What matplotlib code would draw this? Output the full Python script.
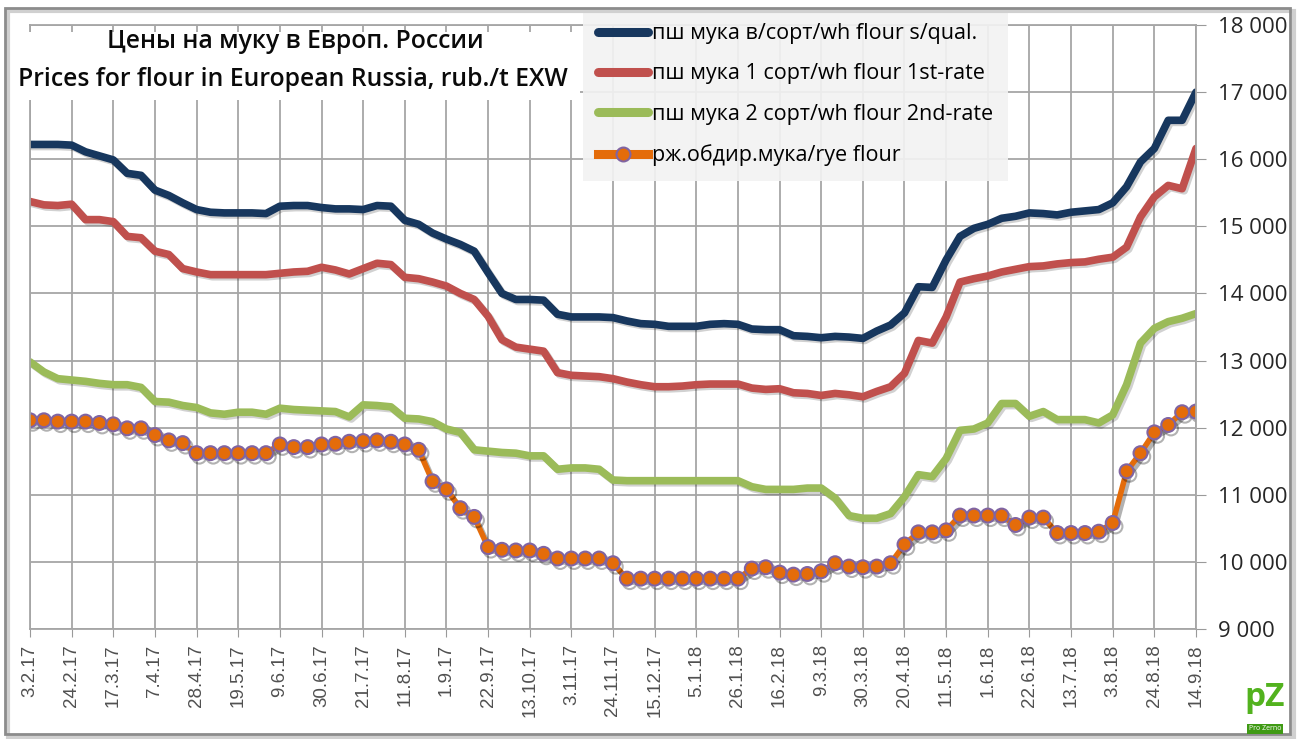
import matplotlib.pyplot as plt
import matplotlib.patheffects as pe
from matplotlib.patches import Rectangle
import numpy as np

# weekly prices, rub./t EXW, 3.2.17 .. 14.9.18
tick_labels = ["3.2.17", "24.2.17", "17.3.17", "7.4.17", "28.4.17", "19.5.17",
               "9.6.17", "30.6.17", "21.7.17", "11.8.17", "1.9.17", "22.9.17",
               "13.10.17", "3.11.17", "24.11.17", "15.12.17", "5.1.18", "26.1.18",
               "16.2.18", "9.3.18", "30.3.18", "20.4.18", "11.5.18", "1.6.18",
               "22.6.18", "13.7.18", "3.8.18", "24.8.18", "14.9.18"]

flour_top = [16220, 16220, 16220, 16210, 16110, 16050, 15990, 15790, 15760, 15540,
             15460, 15350, 15250, 15210, 15200, 15200, 15200, 15190, 15300, 15310,
             15310, 15280, 15260, 15260, 15250, 15310, 15300, 15090, 15030, 14900,
             14810, 14730, 14630, 14310, 14000, 13910, 13910, 13900, 13690, 13650,
             13650, 13650, 13640, 13590, 13550, 13540, 13510, 13510, 13510, 13540,
             13550, 13540, 13470, 13460, 13460, 13370, 13360, 13340, 13360, 13350,
             13330, 13440, 13530, 13710, 14100, 14090, 14500, 14850, 14970, 15030,
             15120, 15150, 15200, 15190, 15170, 15210, 15230, 15250, 15350, 15590,
             15960, 16160, 16580, 16580, 17000]

flour_1st = [15370, 15320, 15310, 15330, 15100, 15100, 15070, 14850, 14830, 14630,
             14580, 14370, 14320, 14280, 14280, 14280, 14280, 14280, 14300, 14320,
             14330, 14390, 14350, 14290, 14370, 14450, 14430, 14240, 14220, 14170,
             14110, 14000, 13910, 13660, 13310, 13200, 13170, 13140, 12820, 12780,
             12770, 12760, 12730, 12680, 12640, 12610, 12610, 12620, 12640, 12650,
             12650, 12650, 12590, 12570, 12580, 12520, 12510, 12480, 12510, 12490,
             12460, 12540, 12610, 12810, 13300, 13260, 13650, 14170, 14220, 14260,
             14320, 14360, 14400, 14410, 14440, 14460, 14470, 14510, 14540, 14690,
             15140, 15440, 15610, 15560, 16160]

flour_2nd = [12980, 12830, 12730, 12710, 12690, 12660, 12640, 12640, 12600, 12390,
             12380, 12330, 12300, 12220, 12200, 12230, 12230, 12200, 12290, 12270,
             12260, 12250, 12240, 12160, 12340, 12330, 12310, 12140, 12130, 12090,
             11980, 11930, 11670, 11650, 11630, 11620, 11580, 11580, 11380, 11400,
             11400, 11380, 11220, 11210, 11210, 11210, 11210, 11210, 11210, 11210,
             11210, 11210, 11120, 11080, 11080, 11080, 11100, 11100, 10950, 10690,
             10650, 10650, 10720, 10970, 11300, 11270, 11540, 11960, 11980, 12070,
             12360, 12360, 12170, 12240, 12120, 12120, 12120, 12070, 12190, 12640,
             13260, 13480, 13580, 13630, 13700]

rye = [12110, 12110, 12090, 12090, 12090, 12070, 12050, 11990, 11990, 11890,
       11810, 11770, 11620, 11620, 11620, 11620, 11620, 11620, 11750, 11710,
       11710, 11750, 11760, 11790, 11800, 11810, 11790, 11750, 11670, 11200,
       11080, 10800, 10670, 10220, 10180, 10170, 10170, 10120, 10050, 10050,
       10050, 10050, 9980, 9750, 9750, 9750, 9750, 9750, 9750, 9750,
       9750, 9750, 9900, 9920, 9840, 9810, 9820, 9860, 9980, 9930,
       9920, 9930, 9980, 10260, 10440, 10440, 10470, 10690, 10690, 10690,
       10690, 10550, 10660, 10660, 10430, 10430, 10430, 10450, 10580, 11350,
       11620, 11930, 12040, 12230, 12240]

weeks = np.arange(len(flour_top))

plt.rcParams['font.family'] = ['Open Sans', 'DejaVu Sans']

fig = plt.figure(figsize=(13.04, 7.39), dpi=100)
ax = fig.add_axes([30 / 1304, 1 - 629 / 739, 1166 / 1304, 604 / 739])

shadow = [pe.SimpleLineShadow(offset=(1.5, -1.5), alpha=0.18), pe.Normal()]
style = dict(lw=5.5, solid_joinstyle='round', solid_capstyle='round', path_effects=shadow)

ax.plot(weeks, flour_top, color='#17375E', label='пш мука в/сорт/wh flour s/qual.', **style)
ax.plot(weeks, flour_1st, color='#C0504D', label='пш мука 1 сорт/wh flour 1st-rate', **style)
ax.plot(weeks, flour_2nd, color='#9BBB59', label='пш мука 2 сорт/wh flour 2nd-rate', **style)
ax.plot(weeks, rye, color='#E46C0A', lw=4, marker='o', markersize=10,
        markerfacecolor='#E46C0A', markeredgecolor='#8064A2', markeredgewidth=1.5,
        label='рж.обдир.мука/rye flour',
        path_effects=[pe.SimpleLineShadow(offset=(2, -2.5), alpha=0.3), pe.Normal()])

ax.set_xlim(0, len(weeks) - 1)
ax.set_ylim(9000, 18000)
ax.set_xticks(weeks[::3])
ax.set_xticklabels(tick_labels, rotation=90, fontfamily='Liberation Sans',
                   fontsize=13.5, color='#505050', va='top')
yt = np.arange(9000, 18001, 1000)
ax.set_yticks(yt)
ax.set_yticklabels([f"{v:,}".replace(",", " ") for v in yt], fontsize=16, color='#262626')
ax.yaxis.tick_right()
ax.tick_params(axis='x', length=6, color='#9A9A9A', pad=5)
ax.tick_params(axis='y', length=7, color='#9A9A9A', pad=9)
ax.grid(True, color='#A6A6A6', lw=1.3)
ax.set_axisbelow(True)
for s in ax.spines.values():
    s.set_color('#A6A6A6')
    s.set_linewidth(1.3)

leg = ax.legend(loc='upper left', bbox_to_anchor=(583 / 1304, 1 - 8 / 739),
                bbox_transform=fig.transFigure, fontsize=15.5, frameon=True,
                fancybox=False, borderaxespad=0, handlelength=2.3, handletextpad=0.2,
                labelspacing=0.9, borderpad=0.7, numpoints=1)
leg.get_frame().set_facecolor('#F2F2F2')
leg.get_frame().set_edgecolor('none')
leg.get_frame().set_alpha(0.92)
for h in leg.get_lines():
    h.set_path_effects([])
    h.set_linewidth(6.5)

# white box behind the title
fig.patches.append(Rectangle((12 / 1304, 1 - 100 / 739), 568 / 1304, 68 / 739,
                             transform=fig.transFigure, fc='white', ec='none', zorder=2))
fig.text(295 / 1304, 1 - 41 / 739, 'Цены на муку в Европ. России', ha='center', va='center',
         fontsize=17.8, fontweight='semibold', color='#0A0A0A', zorder=3)
fig.text(293 / 1304, 1 - 80 / 739, 'Prices for flour in European Russia, rub./t EXW',
         ha='center', va='center', fontsize=17.8, fontweight='semibold', color='#0A0A0A', zorder=3)

# outer frame with a small shadow
fig.patches.append(Rectangle((8 / 1304, 1 - 737 / 739), 1286 / 1304, 726 / 739,
                             transform=fig.transFigure, fill=False, ec='#D0D0D0', lw=3, zorder=0))
fig.patches.append(Rectangle((5 / 1304, 1 - 734 / 739), 1285 / 1304, 726 / 739,
                             transform=fig.transFigure, fill=False, ec='#8C8C8C', lw=2, zorder=5))

# Pro Zerno logo
fig.text(1265 / 1304, 1 - 698 / 739, 'pZ', ha='center', va='center', fontsize=24,
         fontweight='bold', color='#52B21E', zorder=6)
fig.text(1265 / 1304, 1 - 729 / 739, 'Pro Zerno', ha='center', va='center', fontsize=5,
         color='white', zorder=7,
         bbox=dict(fc='#3F9A14', ec='none', pad=1))

fig.savefig('out.png', dpi=100)
